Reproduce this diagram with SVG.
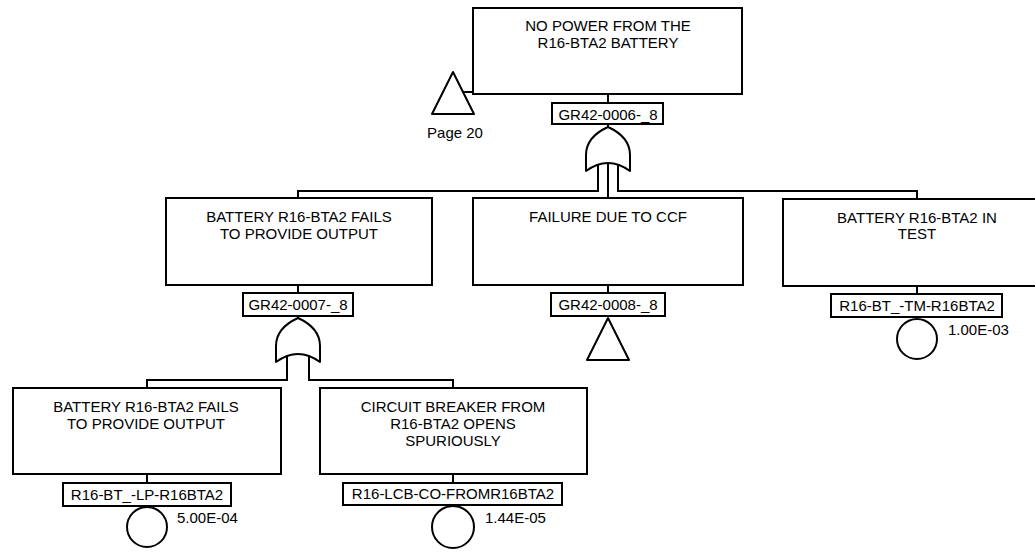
<svg xmlns="http://www.w3.org/2000/svg" width="1035" height="552" viewBox="0 0 1035 552">
  <defs>
    <style>
      .box { fill: #fff; stroke: #000; stroke-width: 2; }
      .lbl { fill: #fff; stroke: #000; stroke-width: 2; }
      .sym { fill: #fff; stroke: #000; stroke-width: 2; stroke-linejoin: round; }
      .wire { fill: none; stroke: #000; stroke-width: 2; }
      text { font-family: "Liberation Sans", Arial, sans-serif; font-size: 15px; fill: #000; }
      .c { text-anchor: middle; }
    </style>
    <!-- OR gate, apex at origin -->
    <path id="orGate" d="M0,0 Q22,10 22,28 L22,44 Q0,28 -22,44 L-22,28 Q-22,10 0,0 Z"/>
    <!-- transfer triangle, apex at origin -->
    <path id="xfer" d="M0,0 L21,42 L-21,42 Z"/>
  </defs>

  <rect width="1035" height="552" fill="#fff"/>

  <!-- connectors -->
  <g id="connectors" class="wire">
    <path d="M463,92 H473"/>
    <path d="M608,94 V103"/>
    <path d="M608,124 V127"/>
    <path d="M598,165 V191 H298 V198"/>
    <path d="M618,165 V191 H917 V198"/>
    <path d="M608,163 V198"/>
    <path d="M298,285 V293"/>
    <path d="M608,285 V293"/>
    <path d="M917,286 V294"/>
    <path d="M298,316 V318"/>
    <path d="M287,356 V380 H147 V388"/>
    <path d="M309,356 V380 H453 V388"/>
    <path d="M147,474 V483"/>
    <path d="M453,474 V483"/>
  </g>

  <!-- top event -->
  <g id="top-event">
    <rect class="box" x="473" y="8" width="269" height="86"/>
    <text class="c" x="608" y="31">NO POWER FROM THE</text>
    <text class="c" x="608" y="48">R16-BTA2 BATTERY</text>
    <rect class="lbl" x="552" y="103" width="111" height="21"/>
    <text class="c" x="608" y="120">GR42-0006-_8</text>
    <use href="#orGate" class="sym" x="608" y="127"/>
  </g>

  <!-- transfer from page 20 -->
  <g id="page20">
    <use href="#xfer" class="sym" x="453" y="72"/>
    <text class="c" x="455" y="138">Page 20</text>
  </g>

  <!-- GR42-0007-_8 -->
  <g id="gr42-0007">
    <rect class="box" x="166" y="198" width="266" height="87"/>
    <text class="c" x="299" y="222">BATTERY R16-BTA2 FAILS</text>
    <text class="c" x="299" y="239">TO PROVIDE OUTPUT</text>
    <rect class="lbl" x="243" y="293" width="110" height="23"/>
    <text class="c" x="298" y="310">GR42-0007-_8</text>
    <use href="#orGate" class="sym" x="298" y="318"/>
  </g>

  <!-- GR42-0008-_8 -->
  <g id="gr42-0008">
    <rect class="box" x="473" y="198" width="270" height="87"/>
    <text class="c" x="608" y="222">FAILURE DUE TO CCF</text>
    <rect class="lbl" x="551" y="293" width="114" height="23"/>
    <text class="c" x="608" y="310">GR42-0008-_8</text>
    <use href="#xfer" class="sym" x="608" y="318"/>
  </g>

  <!-- R16-BT_-TM-R16BTA2 -->
  <g id="r16-bt-tm">
    <rect class="box" x="783" y="199" width="269" height="87"/>
    <text class="c" x="917" y="223">BATTERY R16-BTA2 IN</text>
    <text class="c" x="917" y="239">TEST</text>
    <rect class="lbl" x="831" y="294" width="171" height="23"/>
    <text class="c" x="917" y="311">R16-BT_-TM-R16BTA2</text>
    <circle class="sym" cx="917" cy="339" r="20"/>
    <text x="948" y="335">1.00E-03</text>
  </g>

  <!-- R16-BT_-LP-R16BTA2 -->
  <g id="r16-bt-lp">
    <rect class="box" x="13" y="388" width="268" height="86"/>
    <text class="c" x="146" y="412">BATTERY R16-BTA2 FAILS</text>
    <text class="c" x="146" y="429">TO PROVIDE OUTPUT</text>
    <rect class="lbl" x="63" y="483" width="168" height="23"/>
    <text class="c" x="147" y="500">R16-BT_-LP-R16BTA2</text>
    <circle class="sym" cx="147" cy="527" r="20"/>
    <text x="177" y="523">5.00E-04</text>
  </g>

  <!-- R16-LCB-CO-FROMR16BTA2 -->
  <g id="r16-lcb-co">
    <rect class="box" x="320" y="388" width="267" height="86"/>
    <text class="c" x="453" y="412">CIRCUIT BREAKER FROM</text>
    <text class="c" x="453" y="429">R16-BTA2 OPENS</text>
    <text class="c" x="453" y="446">SPURIOUSLY</text>
    <rect class="lbl" x="343" y="483" width="219" height="22"/>
    <text class="c" x="453" y="499">R16-LCB-CO-FROMR16BTA2</text>
    <circle class="sym" cx="453" cy="527" r="21"/>
    <text x="485" y="523">1.44E-05</text>
  </g>
</svg>
